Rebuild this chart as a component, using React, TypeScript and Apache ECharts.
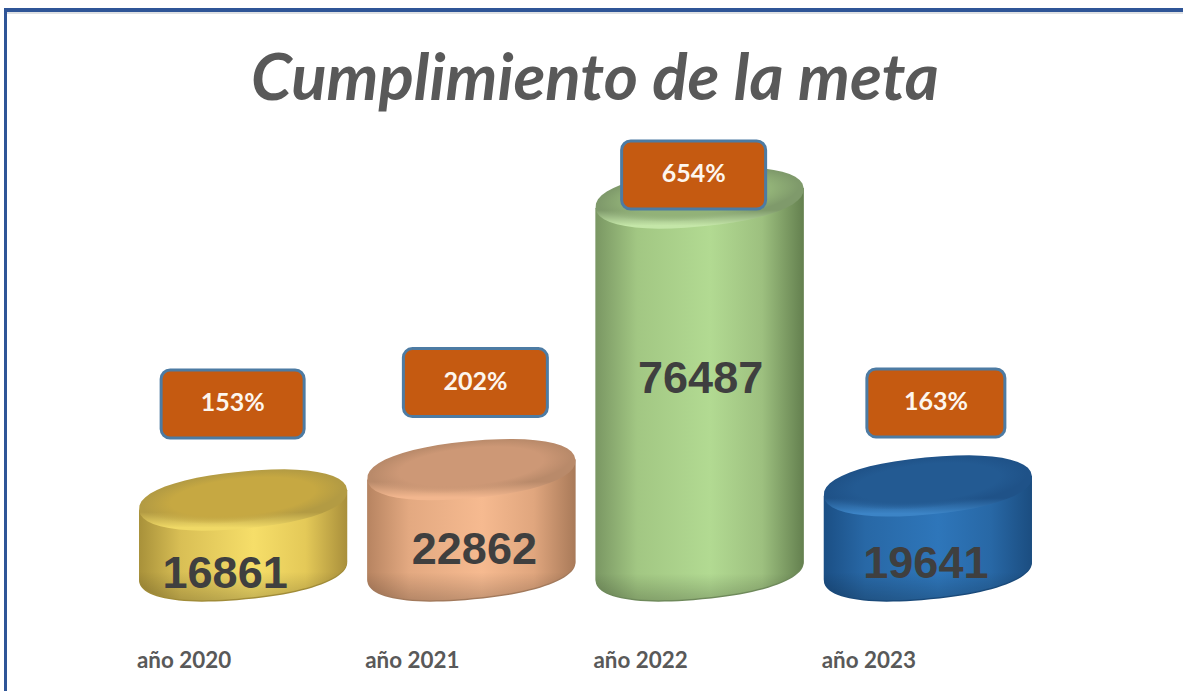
import React, { useEffect, useRef } from "react";
import * as echarts from "echarts";

const titleText = "Cumplimiento de la meta";
const categories = ["año 2020", "año 2021", "año 2022", "año 2023"];
const amounts = [16861, 22862, 76487, 19641];
const percentLabels = ["153%", "202%", "654%", "163%"];

// layout offsets relative to each cylinder (pixels)
const boxDx = [-10.5, 4, -6, 8];
const boxDy = [-66, -57, 7, -53];
const boxW = [143, 144, 144, 138];
const boxH = 68;
const amountDx = [-18, 3, 1, -2];
const amountY = [572, 548, 377, 562];

const palettes = [
  { side: ["#a8913a", "#d9bf55", "#f6de69", "#e4c958", "#a98f3b"], capEdge: "#b39b43", cap: "198,168,66", rim: "#f0d966", dark: "#a18c38" },
  { side: ["#b78461", "#e3a981", "#f6ba90", "#e0a67e", "#a97a59"], capEdge: "#b98a6a", cap: "205,152,118", rim: "#f2b68e", dark: "#a37a5c" },
  { side: ["#7a9763", "#a2c783", "#b2da92", "#9dc07f", "#64804f"], capEdge: "#7f9a6b", cap: "146,178,120", rim: "#c4e6a8", dark: "#6f8a5b" },
  { side: ["#1b4f85", "#2868a6", "#2e76ba", "#2868a6", "#1b4d80"], capEdge: "#1f5288", cap: "35,90,146", rim: "#3c84c6", dark: "#1a4a7a" },
];

const RX = 104.5;
const RY = 28.5;
const TILT = (5.5 * Math.PI) / 180;
const HALF_H = 30;
const ROUND_EXP = 0.9;
const ARC_STEPS = 48;
const Y_MIN = -9000;
const Y_MAX = 80000;

const hGrad = (stops: string[]) => ({
  type: "linear", x: 0, y: 0, x2: 1, y2: 0,
  colorStops: [
    { offset: 0, color: stops[0] },
    { offset: 0.2, color: stops[1] },
    { offset: 0.55, color: stops[2] },
    { offset: 0.8, color: stops[3] },
    { offset: 1, color: stops[4] },
  ],
});

const rimPoint = (cx: number, cy: number, t: number) => {
  const c = Math.cos(t);
  const s = Math.sin(t);
  const u = RX * Math.sign(c) * Math.pow(Math.abs(c), ROUND_EXP);
  const v = RY * Math.sign(s) * Math.pow(Math.abs(s), ROUND_EXP);
  return [cx + u * Math.cos(TILT) + v * Math.sin(TILT), cy - u * Math.sin(TILT) + v * Math.cos(TILT)];
};

const arcSegments = (cx: number, cy: number, from: number, to: number) => {
  let d = "";
  for (let k = 0; k <= ARC_STEPS; k++) {
    const [x, y] = rimPoint(cx, cy, from + ((to - from) * k) / ARC_STEPS);
    d += `L${x.toFixed(2)} ${y.toFixed(2)}`;
  }
  return d;
};

const bodyPath = (cx: number, topC: number, baseC: number) => {
  const [lx, ly] = rimPoint(cx, topC, Math.PI);
  const [rx, ry] = rimPoint(cx, topC, 0);
  return `M${lx} ${ly}${arcSegments(cx, baseC, Math.PI, 0)}L${rx} ${ry}Z`;
};

const capPath = (cx: number, cy: number) => {
  const [sx, sy] = rimPoint(cx, cy, 0);
  return `M${sx} ${sy}${arcSegments(cx, cy, 0, 2 * Math.PI)}Z`;
};

const cylinderItem = (params: any, api: any) => {
  const i = params.dataIndex;
  const p = palettes[i];
  const cx = api.coord([api.value(0), 0])[0];
  const topEdge = api.coord([api.value(0), api.value(1)])[1];
  const floor = api.coord([api.value(0), Y_MIN])[1];
  const topC = topEdge + HALF_H;
  const baseC = floor - HALF_H;
  const bodyH = floor - topC;
  return {
    type: "group",
    children: [
      { type: "path", shape: { pathData: bodyPath(cx, topC, baseC) }, style: { fill: p.dark } },
      { type: "path", shape: { pathData: bodyPath(cx, topC, baseC - 1.5) }, style: { fill: hGrad(p.side) } },
      {
        type: "path",
        shape: { pathData: bodyPath(cx, topC, baseC - 1.5) },
        style: {
          fill: {
            type: "linear", x: 0, y: 0, x2: 0, y2: 1,
            colorStops: [
              { offset: 0, color: "rgba(0,0,0,0)" },
              { offset: Math.max(0, 1 - 26 / bodyH), color: "rgba(0,0,0,0)" },
              { offset: 1, color: "rgba(0,0,0,0.2)" },
            ],
          },
        },
      },
      {
        type: "path",
        shape: { pathData: capPath(cx, topC) },
        style: {
          fill: {
            type: "linear", x: 0, y: 0, x2: 0, y2: 1,
            colorStops: [
              { offset: 0, color: p.capEdge },
              { offset: 0.7, color: p.capEdge },
              { offset: 0.95, color: p.rim },
              { offset: 1, color: p.rim },
            ],
          },
        },
      },
      {
        type: "ellipse",
        rotation: TILT,
        originX: cx,
        originY: topC,
        shape: { cx, cy: topC - 3, rx: RX - 4, ry: RY - 3 },
        style: {
          fill: {
            type: "radial", x: 0.5, y: 0.5, r: 0.5,
            colorStops: [
              { offset: 0, color: `rgba(${p.cap},1)` },
              { offset: 0.72, color: `rgba(${p.cap},1)` },
              { offset: 1, color: `rgba(${p.cap},0)` },
            ],
          },
        },
      },
      {
        type: "text",
        x: cx + amountDx[i],
        y: amountY[i],
        style: {
          text: String(amounts[i]),
          fill: "#3f3f3f",
          font: 'bold 45px "Liberation Sans", Arial, sans-serif',
          align: "center",
          verticalAlign: "middle",
        },
      },
    ],
  };
};

const boxItem = (params: any, api: any) => {
  const i = params.dataIndex;
  const cx = api.coord([api.value(0), 0])[0] + boxDx[i];
  const cy = api.coord([api.value(0), api.value(1)])[1] + boxDy[i];
  return {
    type: "group",
    children: [
      {
        type: "rect",
        shape: { x: cx - boxW[i] / 2, y: cy - boxH / 2, width: boxW[i], height: boxH, r: 9 },
        style: { fill: "#c55a11", stroke: "#4d7ba3", lineWidth: 3 },
      },
      {
        type: "text",
        x: cx,
        y: cy - 3,
        style: {
          text: percentLabels[i],
          fill: "#fdf6ee",
          font: "bold 25px Lato, sans-serif",
          align: "center",
          verticalAlign: "middle",
        },
      },
    ],
  };
};

export default function App() {
  const ref = useRef<HTMLDivElement>(null);
  useEffect(() => {
    const chart = echarts.init(ref.current!, undefined, { renderer: "svg" });
    const seriesData = categories.map((_, i) => [i, amounts[i]]);
    chart.setOption({
      animation: false,
      backgroundColor: "#ffffff",
      title: {
        text: titleText,
        left: 590,
        top: 36,
        textAlign: "center",
        textStyle: {
          fontFamily: "Lato, sans-serif",
          fontSize: 65.5,
          fontWeight: "bold",
          fontStyle: "italic",
          color: "#595959",
        },
      },
      grid: { left: 129, width: 913, top: 150.2, height: 450.8 },
      xAxis: {
        type: "category",
        data: categories,
        axisLine: { show: false },
        axisTick: { show: false },
        axisLabel: {
          margin: 47,
          fontFamily: "Lato, sans-serif",
          fontWeight: "bold",
          fontSize: 22.4,
          color: "#595959",
          padding: [0, 118, 0, 0],
          interval: 0,
        },
      },
      yAxis: { type: "value", min: Y_MIN, max: Y_MAX, show: false, splitLine: { show: false } },
      series: [
        { type: "custom", data: seriesData, encode: { x: 0, y: 1 }, renderItem: cylinderItem, z: 2 },
        { type: "custom", data: seriesData, encode: { x: 0, y: 1 }, renderItem: boxItem, z: 3 },
      ],
      graphic: [
        { type: "rect", shape: { x: 4, y: 8, width: 1179, height: 4 }, style: { fill: "#2f5597" }, silent: true },
        { type: "rect", shape: { x: 4, y: 8, width: 3, height: 683 }, style: { fill: "#2f5597" }, silent: true },
        { type: "rect", shape: { x: 7, y: 12, width: 1176, height: 2 }, style: { fill: "#dfe1e4" }, silent: true },
      ],
    });
    return () => chart.dispose();
  }, []);
  return <div ref={ref} style={{ position: "absolute", left: 0, top: 0, width: 1183, height: 691 }} />;
}
